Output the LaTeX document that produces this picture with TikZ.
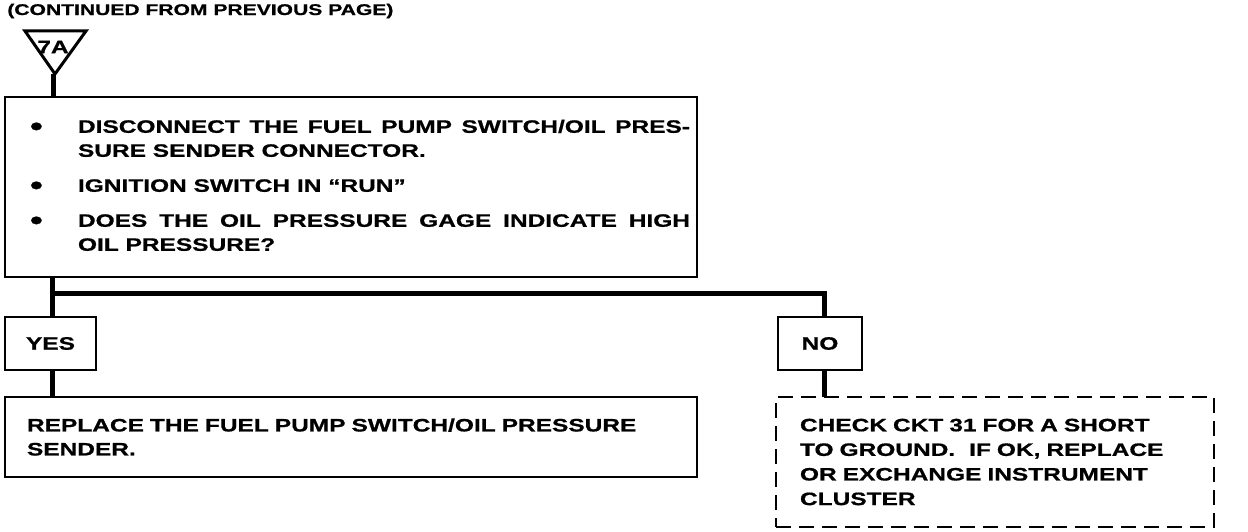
\documentclass[tikz,border=0pt]{standalone}
\usepackage{fontspec}
\setmainfont{Liberation Sans}[FakeStretch=1.36, BoldFeatures={FakeBold=0.8}]

\begin{document}
\begin{tikzpicture}[x=1pt, y=-1pt,
    every node/.style={font=\bfseries\fontsize{18}{24}\selectfont, outer sep=0pt, inner ysep=0pt},
    stepbox/.style={draw, line width=2pt, anchor=north west, align=left},
    answer/.style={draw, line width=2pt, anchor=north west, minimum width=91pt, minimum height=53pt},
    link/.style={line width=5pt}]
    \useasboundingbox (0,0) rectangle (1248,532);

    % Header and entry point
    \node[anchor=west, font=\bfseries\fontsize{15.5}{20}\selectfont] (head) at (4,11) {(CONTINUED FROM PREVIOUS PAGE)};
    \draw[line width=3pt, line join=miter] (25,31) -- (86,31) -- (55,74) -- cycle;
    \node (entry) at (53,47) {7A};
    \coordinate (tip) at (53,74);

    % Main check
    \node[stepbox, minimum height=180pt, inner xsep=0pt] (check) at (5,97) {%
      \begin{tabular}{@{\hspace{25pt}}p{48pt}@{}p{612pt}@{\hspace{7pt}}}
        \raisebox{-2.5pt}{\scalebox{1.5}{\textbullet}} & DISCONNECT THE FUEL PUMP SWITCH/OIL PRES-\linebreak SURE SENDER CONNECTOR.\\[11pt]
        \raisebox{-2.5pt}{\scalebox{1.5}{\textbullet}} & IGNITION SWITCH IN “RUN”\\[11pt]
        \raisebox{-2.5pt}{\scalebox{1.5}{\textbullet}} & DOES THE OIL PRESSURE GAGE INDICATE HIGH\linebreak OIL PRESSURE?
      \end{tabular}};
    \draw[link] (tip) -- (tip |- check.north);

    % Answers
    \node[answer] (yes) at (5,317) {YES};
    \node[answer, minimum width=84pt] (no) at (778,317) {NO};
    \coordinate (fork) at (52,293);
    \draw[link] (fork |- check.south) -- (fork |- yes.north);
    \draw[link] (fork) -| ([xshift=4pt]no.north);

    % Results
    \node[stepbox, minimum width=692pt, minimum height=80pt, text width=648pt, inner xsep=22pt] (fix) at (5,397)
      {REPLACE THE FUEL PUMP SWITCH/OIL PRESSURE\\ SENDER.};
    \node[stepbox, dash pattern=on 15pt off 8pt, line width=2.5pt, minimum height=130pt, text width=390pt, inner xsep=24pt,
      font=\bfseries\fontsize{18}{24.6}\selectfont] (short) at (776,397)
      {CHECK CKT 31 FOR A SHORT\\ TO GROUND.\hspace{14pt}IF OK, REPLACE\\ OR EXCHANGE INSTRUMENT\\ CLUSTER};
    \draw[link] (fork |- yes.south) -- (fork |- fix.north);
    \draw[link] ([xshift=4pt]no.south) -- ([xshift=4pt]no.south |- short.north);
\end{tikzpicture}
\end{document}
